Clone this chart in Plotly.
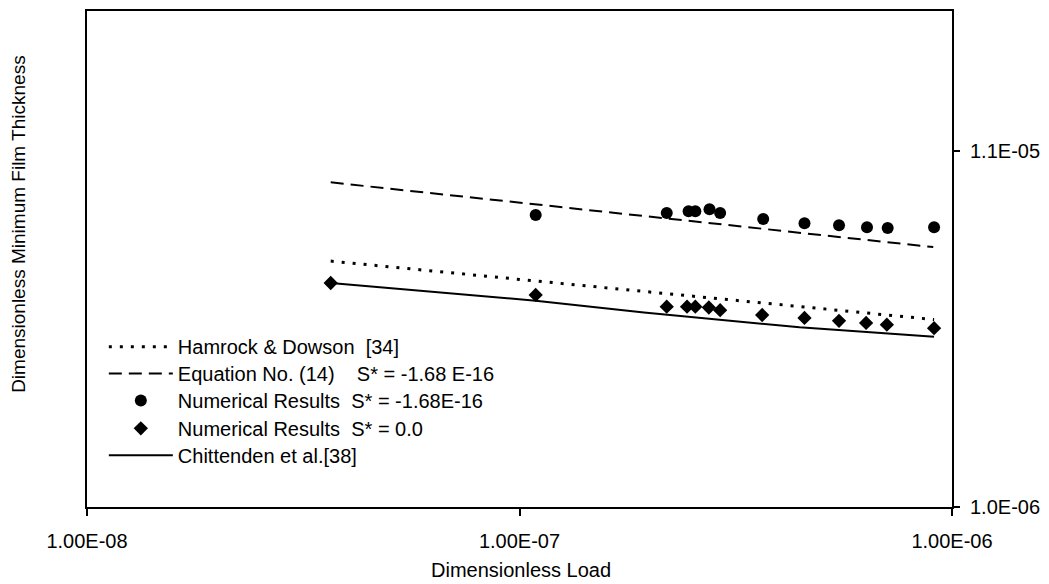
import plotly.graph_objects as go

# ---- data ----
load_circles = [1.09e-7, 2.19e-7, 2.46e-7, 2.55e-7, 2.75e-7, 2.91e-7, 3.66e-7,
                4.56e-7, 5.48e-7, 6.36e-7, 7.10e-7, 9.09e-7]
film_circles = [7.16e-6, 7.26e-6, 7.35e-6, 7.35e-6, 7.45e-6, 7.26e-6, 6.97e-6,
                6.78e-6, 6.69e-6, 6.60e-6, 6.56e-6, 6.60e-6]

load_diamonds = [3.66e-8, 1.09e-7, 2.19e-7, 2.44e-7, 2.55e-7, 2.74e-7, 2.91e-7,
                 3.64e-7, 4.56e-7, 5.48e-7, 6.33e-7, 7.07e-7, 9.09e-7]
film_diamonds = [4.53e-6, 4.18e-6, 3.86e-6, 3.86e-6, 3.86e-6, 3.84e-6, 3.77e-6,
                 3.65e-6, 3.58e-6, 3.51e-6, 3.46e-6, 3.42e-6, 3.34e-6]

load_eq14 = [3.66e-8, 1.09e-7, 2.91e-7, 9.05e-7]
film_eq14 = [8.93e-6, 7.69e-6, 6.74e-6, 5.77e-6]

load_hamrock = [3.66e-8, 1.09e-7, 2.91e-7, 9.09e-7]
film_hamrock = [5.25e-6, 4.60e-6, 4.07e-6, 3.54e-6]

load_chitt = [3.66e-8, 1.09e-7, 1.94e-7, 4.44e-7, 9.09e-7]
film_chitt = [4.53e-6, 4.02e-6, 3.71e-6, 3.36e-6, 3.15e-6]

x_tickvals = [1e-8, 1e-7, 1e-6]
x_ticktext = ["1.00E-08", "1.00E-07", "1.00E-06"]
y_tickvals = [1e-6, 1.1e-5]
y_ticktext = ["1.0E-06", "1.1E-05"]

FONT = "Liberation Sans, Arial, sans-serif"
L, R, T, B = 87, 961, 9, 507
W, H = 1049, 584
PW, PH = R - L, B - T

# legend rows (pixel centres) in the reference
legend_rows = [346, 373, 400, 428, 455]
legend_left = 104

fig = go.Figure()
fig.add_trace(go.Scatter(x=load_hamrock, y=film_hamrock, mode="lines",
                         name="Hamrock &amp; Dowson&nbsp;&nbsp;[34]", legend="legend",
                         line=dict(color="black", width=3, dash="3px,8px")))
fig.add_trace(go.Scatter(x=load_eq14, y=film_eq14, mode="lines",
                         name="Equation No. (14)&nbsp;&nbsp;&nbsp;&nbsp;S* = -1.68 E-16",
                         legend="legend2",
                         line=dict(color="black", width=2, dash="13px,7px")))
fig.add_trace(go.Scatter(x=load_circles, y=film_circles, mode="markers",
                         name="Numerical Results&nbsp;&nbsp;S* = -1.68E-16", legend="legend3",
                         marker=dict(symbol="circle", size=12, color="black")))
fig.add_trace(go.Scatter(x=load_diamonds, y=film_diamonds, mode="markers",
                         name="Numerical Results&nbsp;&nbsp;S* = 0.0", legend="legend4",
                         marker=dict(symbol="diamond", size=11, color="black")))
fig.add_trace(go.Scatter(x=load_chitt, y=film_chitt, mode="lines",
                         name="Chittenden et al.[38]", legend="legend5",
                         line=dict(color="black", width=2)))

legend_common = dict(xanchor="left", yanchor="middle", bgcolor="rgba(0,0,0,0)",
                     borderwidth=0, itemwidth=64,
                     font=dict(family=FONT, size=20, color="black"))
legends = {}
for i, row in enumerate(legend_rows):
    key = "legend" if i == 0 else f"legend{i + 1}"
    legends[key] = dict(x=(legend_left - L) / PW, y=(B - row) / PH, **legend_common)

fig.update_layout(
    width=W, height=H,
    margin=dict(l=L, r=W - R, t=T, b=H - B),
    paper_bgcolor="white", plot_bgcolor="white",
    font=dict(family=FONT, size=20, color="black"),
    showlegend=True,
    xaxis=dict(type="log", range=[-8, -6], tickvals=x_tickvals, ticktext=x_ticktext,
               showgrid=False, zeroline=False, showline=True, linecolor="black",
               linewidth=2, mirror=True, ticks="outside", ticklen=7, tickwidth=1.5,
               tickcolor="black", ticklabelstandoff=8,
               tickfont=dict(family=FONT, size=20)),
    yaxis=dict(type="log", range=[-6, -4.5473], side="right",
               tickvals=y_tickvals, ticktext=y_ticktext,
               showgrid=False, zeroline=False, showline=True, linecolor="black",
               linewidth=2, mirror=True, ticks="outside", ticklen=6, tickwidth=1.5,
               tickcolor="black", ticklabelstandoff=6,
               tickfont=dict(family=FONT, size=20)),
    annotations=[
        dict(text="Dimensionless Load", xref="paper", yref="paper",
             x=(526 - L) / PW, y=(B - 570) / PH, xanchor="center", yanchor="middle",
             showarrow=False, font=dict(family=FONT, size=20)),
        dict(text="Dimensionless Minimum Film Thickness", xref="paper", yref="paper",
             x=(17 - L) / PW, y=(B - 223) / PH, xanchor="center", yanchor="middle",
             textangle=-90, showarrow=False, font=dict(family=FONT, size=19)),
    ],
    **legends,
)

fig.write_html(
    "out.html",
    config={"displayModeBar": False},
    post_script="document.body.style.margin='0';document.body.style.overflow='hidden';",
)
